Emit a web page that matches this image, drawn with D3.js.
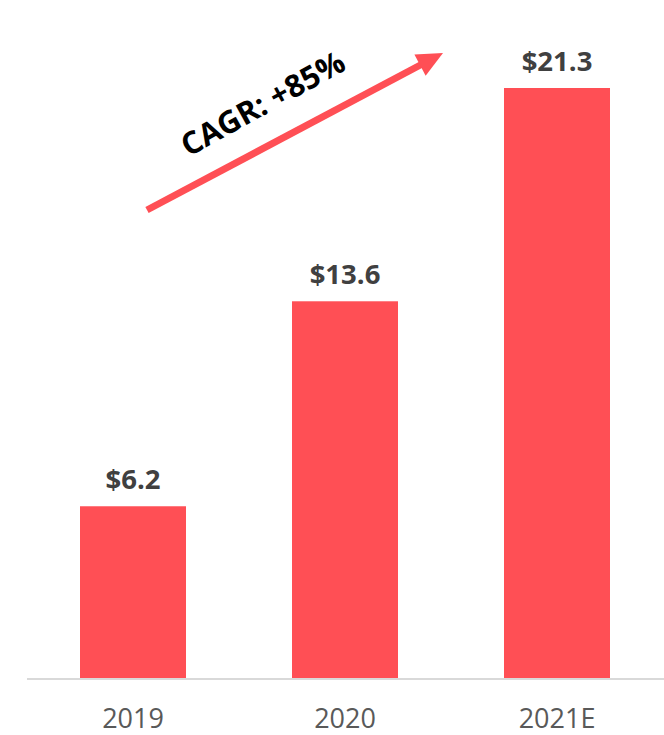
<!DOCTYPE html>
<html>
<head>
<meta charset="utf-8">
<script src="https://cdn.jsdelivr.net/npm/d3@7"></script>
<style>
  html, body { margin: 0; padding: 0; background: #fff; }
  svg { display: block; }
</style>
</head>
<body>
<svg id="chart" width="664" height="735"></svg>
<script>
// Revenue by year (billions USD)
const categories = ["2019", "2020", "2021E"];
const values = [6.2, 13.6, 21.3];
const valueLabels = ["$6.2", "$13.6", "$21.3"];
const growthLabel = "CAGR: +85%";

const width = 664, height = 735;
const baseline = 678;
const svg = d3.select("#chart");

const x = d3.scaleBand()
  .domain(categories)
  .range([27, 663])
  .paddingInner(0.5)
  .paddingOuter(0.25);

const y = d3.scaleLinear()
  .domain([0, 21.3])
  .range([baseline, 88]);

// bars
svg.selectAll("rect.bar")
  .data(values)
  .join("rect")
  .attr("class", "bar")
  .attr("x", (d, i) => x(categories[i]))
  .attr("y", d => y(d))
  .attr("width", x.bandwidth())
  .attr("height", d => baseline - y(d))
  .attr("fill", "#FF4F55");

// value labels above bars
svg.selectAll("text.val")
  .data(values)
  .join("text")
  .attr("class", "val")
  .attr("x", (d, i) => x(categories[i]) + x.bandwidth() / 2)
  .attr("y", d => y(d) - 17)
  .attr("text-anchor", "middle")
  .attr("font-family", "'Open Sans', sans-serif")
  .attr("font-weight", 700)
  .attr("font-size", 27.5)
  .attr("fill", "#404040")
  .text((d, i) => valueLabels[i]);

// category axis
const axis = svg.append("g")
  .attr("transform", `translate(0,${baseline})`)
  .call(d3.axisBottom(x).tickSize(0).tickPadding(31));
axis.select(".domain").attr("stroke", "#D9D9D9").attr("stroke-width", 2)
  .attr("d", `M27,1H664`);
axis.selectAll(".tick text")
  .attr("font-family", "'Open Sans', sans-serif")
  .attr("font-size", 27)
  .attr("fill", "#595959");

// growth arrow
const x0 = 147, y0 = 210, x1 = 443, y1 = 53;
const ang = Math.atan2(y1 - y0, x1 - x0);
const headLen = 26, headHalf = 12;
const bx = x1 - headLen * Math.cos(ang), by = y1 - headLen * Math.sin(ang);
svg.append("line")
  .attr("x1", x0).attr("y1", y0)
  .attr("x2", bx + 2 * Math.cos(ang)).attr("y2", by + 2 * Math.sin(ang))
  .attr("stroke", "#FF4F55")
  .attr("stroke-width", 7);
svg.append("polygon")
  .attr("points", [
    [x1, y1],
    [bx + headHalf * Math.sin(ang), by - headHalf * Math.cos(ang)],
    [bx - headHalf * Math.sin(ang), by + headHalf * Math.cos(ang)]
  ].map(p => p.join(",")).join(" "))
  .attr("fill", "#FF4F55");

svg.append("text")
  .attr("transform", `translate(268,113) rotate(-29)`)
  .attr("text-anchor", "middle")
  .attr("font-family", "'Open Sans', sans-serif")
  .attr("font-weight", 700)
  .attr("font-size", 31)
  .attr("fill", "#000")
  .text(growthLabel);
</script>
</body>
</html>
